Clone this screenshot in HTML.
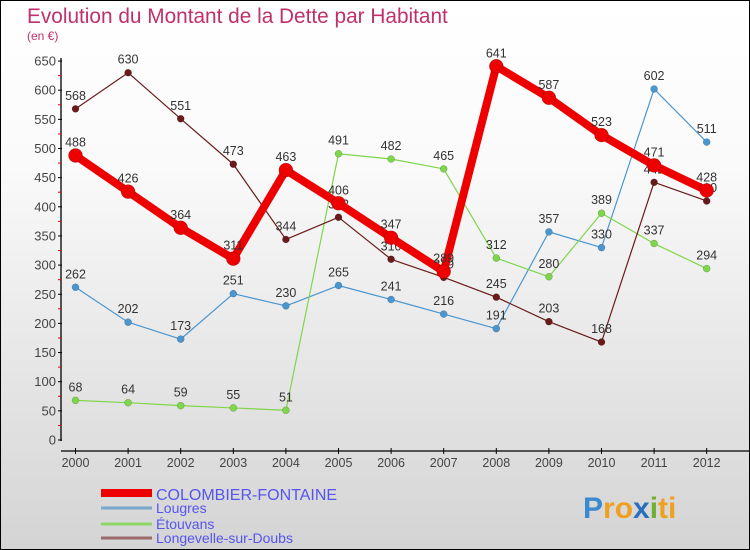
<!DOCTYPE html>
<html><head><meta charset="utf-8"><style>
body{margin:0;}
#c{width:748px;height:548px;border:1px solid #000;background:linear-gradient(#fff,#fafafa 30%,#d4d4d4);position:relative;overflow:hidden;font-family:"Liberation Sans",sans-serif;}
</style></head><body>
<div id="c">
<svg id="s" width="748" height="548" xmlns="http://www.w3.org/2000/svg"></svg>
</div>
<script>
const years=["2000","2001","2002","2003","2004","2005","2006","2007","2008","2009","2010","2011","2012"];
const colombier=[488,426,364,311,463,406,347,289,641,587,523,471,428];
const lougres=[262,202,173,251,230,265,241,216,191,357,330,602,511];
const etouvans=[68,64,59,55,51,491,482,465,312,280,389,337,294];
const longevelle=[568,630,551,473,344,382,310,279,245,203,168,442,410];
const yTicks=[0,50,100,150,200,250,300,350,400,450,500,550,600,650];
const NS="http://www.w3.org/2000/svg";
const s=document.getElementById('s');
const X=i=>74.5+i*52.6;
const Y=v=>439-v*0.583;
function el(t,a,p){const e=document.createElementNS(NS,t);for(const k in a)e.setAttribute(k,a[k]);(p||s).appendChild(e);return e;}
let t=el('text',{x:26,y:22,'font-size':20.8,fill:'#c0306a'});t.textContent='Evolution du Montant de la Dette par Habitant';

t=el('text',{x:26,y:39,'font-size':12,fill:'#c0306a'});t.textContent='(en €)';

let a=el('line',{x1:60,y1:57,x2:60,y2:440,stroke:'#000','stroke-width':1.3});

a=el('line',{x1:60,y1:450,x2:748,y2:450,stroke:'#000','stroke-width':1.3});

yTicks.forEach((v,i)=>{
 el('line',{x1:57,y1:Y(v),x2:61,y2:Y(v),stroke:'#000'});
 if(i<yTicks.length-1)el('line',{x1:57,y1:Y(v+25),x2:60,y2:Y(v+25),stroke:'#e00'});
 const tt=el('text',{x:55,y:Y(v)+4.5,'font-size':13,fill:'#444','text-anchor':'end'});tt.textContent=v;
 
});
years.forEach((y,i)=>{
 el('line',{x1:X(i),y1:447,x2:X(i),y2:453,stroke:'#000'});
 const tt=el('text',{x:X(i),y:466,'font-size':12.5,fill:'#444','text-anchor':'middle'});tt.textContent=y;
 
});
function series(data,color,w,r,name){
 const g=el('g',{});
 
 el('polyline',{points:data.map((v,i)=>X(i)+','+Y(v)).join(' '),fill:'none',stroke:color,'stroke-width':w,'stroke-linejoin':'round'},g);
 data.forEach((v,i)=>{
  const c=el('circle',{cx:X(i),cy:Y(v),r:r,fill:color,stroke:'rgba(0,0,0,0.3)','stroke-width':0.5},g);
  
  const tt=el('text',{x:X(i),y:Y(v)-9,'font-size':12.5,fill:'#333','text-anchor':'middle'},g);tt.textContent=v;
  
 });
}
series(lougres,'#4a96d0',1.2,3.5,'series-lougres');
series(etouvans,'#7ed64a',1.2,3.5,'series-etouvans');
series(longevelle,'#6a1a1a',1.2,3.5,'series-longevelle');
series(colombier,'#ee0000',8,7,'series-colombier');
const leg=[['COLOMBIER-FONTAINE','#ee0000',8,16],['Lougres','#7aa8cc',3,14],['Étouvans','#8ed86a',3,14],['Longevelle-sur-Doubs','#9a6a6a',3,14]];
const ly=[492,507,523,537];
const ty=[499,512,528,542];
leg.forEach((l,i)=>{
 const g=el('g',{});
 el('line',{x1:100,y1:ly[i],x2:151,y2:ly[i],stroke:l[1],'stroke-width':l[2]},g);
 const tt=el('text',{x:155,y:ty[i],'font-size':l[3],fill:'#5555ee'},g);tt.textContent=l[0];
});
const lg=el('text',{x:582,y:517,'font-size':30,'font-weight':'bold'});

[['P','#3a8ad0'],['ro','#f0a020'],['x','#2a70c0'],['i','#70b030'],['ti','#f0a020']].forEach(p=>{const sp=el('tspan',{fill:p[1]},lg);sp.textContent=p[0];});
</script>
</body></html>
